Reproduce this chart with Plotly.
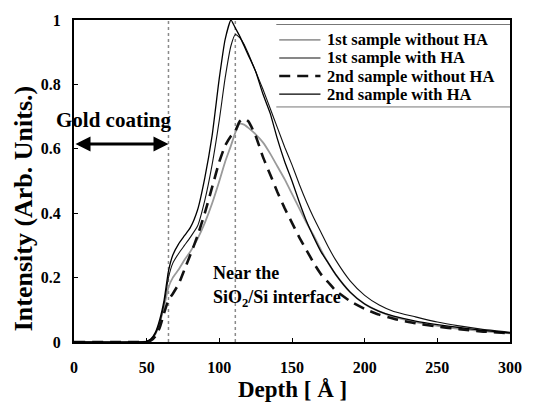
import plotly.graph_objects as go

# ---- data ----
depth = [0, 45, 50, 53, 56, 59, 62, 65, 68, 72, 76, 80, 85, 90, 95, 100, 104, 108, 111,
         114, 117, 120, 125, 130, 135, 140, 145, 150, 155, 160, 165, 170, 175, 180, 190,
         200, 210, 220, 235, 250, 265, 280, 300]

s1_without_ha = [0, 0, 0.002, 0.008, 0.025, 0.06, 0.11, 0.17, 0.2, 0.225, 0.255, 0.28, 0.32,
                 0.37, 0.43, 0.5, 0.56, 0.61, 0.65, 0.678, 0.675, 0.665, 0.645, 0.62, 0.585,
                 0.545, 0.505, 0.46, 0.415, 0.37, 0.33, 0.285, 0.245, 0.21, 0.155, 0.118,
                 0.095, 0.078, 0.062, 0.05, 0.041, 0.034, 0.027]

s1_with_ha = [0, 0, 0.002, 0.008, 0.025, 0.06, 0.12, 0.2, 0.245, 0.275, 0.3, 0.325, 0.36,
              0.44, 0.55, 0.69, 0.82, 0.92, 0.955, 0.945, 0.925, 0.895, 0.84, 0.785, 0.725,
              0.665, 0.605, 0.55, 0.49, 0.435, 0.385, 0.34, 0.295, 0.255, 0.19, 0.145,
              0.115, 0.095, 0.078, 0.062, 0.05, 0.04, 0.03]

s2_without_ha = [0, 0, 0.001, 0.005, 0.018, 0.045, 0.09, 0.13, 0.15, 0.18, 0.225, 0.27, 0.33,
                 0.4, 0.48, 0.56, 0.61, 0.64, 0.655, 0.685, 0.694, 0.685, 0.64, 0.575, 0.52,
                 0.465, 0.415, 0.37, 0.325, 0.285, 0.245, 0.21, 0.185, 0.16, 0.127, 0.103,
                 0.085, 0.072, 0.058, 0.048, 0.04, 0.033, 0.027]

s2_with_ha = [0, 0, 0.002, 0.01, 0.03, 0.07, 0.13, 0.22, 0.27, 0.305, 0.33, 0.355, 0.41,
              0.51, 0.64, 0.82, 0.94, 1.0, 0.975, 0.95, 0.92, 0.89, 0.84, 0.77, 0.71,
              0.63, 0.56, 0.5, 0.435, 0.375, 0.325, 0.28, 0.245, 0.21, 0.155, 0.118,
              0.095, 0.08, 0.065, 0.054, 0.045, 0.037, 0.028]

series_names = ["1st sample without HA", "1st sample with HA",
                "2nd sample without HA", "2nd sample with HA"]

marker_depths = [65, 111]          # dotted vertical reference lines
gold_span = [0, 65]                # gold coating arrow extent
gold_level = 0.615

x_ticks = [0, 50, 100, 150, 200, 250, 300]
y_ticks = [0, 0.2, 0.4, 0.6, 0.8, 1]
y_ticklabels = ["0", "0.2", "0.4", "0.6", "0.8", "1"]

FONT = "Liberation Serif"

fig = go.Figure()

styles = [
    dict(color="#9a9a9a", width=1.8),
    dict(color="#111111", width=1.1),
    dict(color="#111111", width=2.6, dash="11px,7px"),
    dict(color="#000000", width=1.3),
]
for name, vals, st in zip(series_names,
                          [s1_without_ha, s1_with_ha, s2_without_ha, s2_with_ha],
                          styles):
    fig.add_trace(go.Scatter(x=depth, y=vals, mode="lines", name=name, showlegend=False,
                             line=dict(shape="spline", smoothing=0.5, **st)))

# compact legend (sample line + bold label), drawn in paper space
leg_rows = [0.938, 0.882, 0.826, 0.770]
for name, st, yr in zip(series_names, styles, leg_rows):
    fig.add_shape(type="line", xref="paper", yref="paper", x0=0.4707, x1=0.5653,
                  y0=yr, y1=yr, line=dict(color=st["color"], width=st["width"],
                                          dash=st.get("dash", "solid")))
    fig.add_annotation(x=0.5788, y=yr, xref="paper", yref="paper", text=f"<b>{name}</b>",
                       showarrow=False, xanchor="left", yanchor="middle", borderpad=0,
                       font=dict(family=FONT, size=16.5, color="black"))
fig.add_shape(type="line", xref="paper", yref="paper", x0=0.464, x1=1, y0=0.986, y1=0.986,
              line=dict(color="#777777", width=1))
fig.add_shape(type="line", xref="paper", yref="paper", x0=0.464, x1=1, y0=0.730, y1=0.730,
              line=dict(color="#777777", width=1))

for d in marker_depths:
    fig.add_shape(type="line", xref="x", yref="paper", x0=d, x1=d, y0=0, y1=1,
                  line=dict(color="#8a8a8a", width=1.5, dash="dot"), layer="below")

# gold coating double arrow
fig.add_annotation(x=gold_span[1], y=gold_level, ax=gold_span[0], ay=gold_level,
                   xref="x", yref="y", axref="x", ayref="y", text="",
                   showarrow=True, arrowhead=2, startarrowhead=2, arrowside="end+start",
                   arrowwidth=3, arrowsize=1, startarrowsize=1, arrowcolor="black")
fig.add_annotation(x=27.5, y=0.69, xref="x", yref="y", text="<b>Gold coating</b>",
                   showarrow=False, font=dict(family=FONT, size=21, color="black"))
fig.add_annotation(x=94.5, y=0.214, xref="x", yref="y", text="<b>Near the</b>",
                   showarrow=False, xanchor="left",
                   font=dict(family=FONT, size=18, color="black"))
fig.add_annotation(x=94.5, y=0.136, xref="x", yref="y",
                   text="<b>SiO<sub>2</sub>/Si interface</b>",
                   showarrow=False, xanchor="left",
                   font=dict(family=FONT, size=18, color="black"))

# axis titles
fig.add_annotation(x=-0.117, y=0.415, xref="paper", yref="paper", xanchor="center",
                   yanchor="middle", text="<b>Intensity (Arb. Units.)</b>", textangle=-90,
                   showarrow=False, font=dict(family=FONT, size=26, color="black"))
fig.add_annotation(x=0.502, y=-0.147, xref="paper", yref="paper", xanchor="center",
                   yanchor="middle", text="<b>Depth [ Å ]</b>", showarrow=False,
                   font=dict(family=FONT, size=23, color="black"))

fig.update_layout(
    width=534, height=407,
    margin=dict(l=74, r=16, t=17, b=65),
    paper_bgcolor="white", plot_bgcolor="white",
    showlegend=False,
    font=dict(family=FONT, color="black"),
)
fig.update_xaxes(range=[0, 300], tickvals=x_ticks, ticktext=[f"<b>{v}</b>" for v in x_ticks],
                 showgrid=False, zeroline=False, showline=True, linecolor="black",
                 linewidth=2, mirror=True, ticks="inside", ticklen=4, tickcolor="black",
                 tickfont=dict(family=FONT, size=16, color="black"), ticklabelstandoff=10)
fig.update_yaxes(range=[0, 1], tickvals=y_ticks, ticktext=[f"<b>{t}</b>" for t in y_ticklabels],
                 showgrid=False, zeroline=False, showline=True, linecolor="black",
                 linewidth=2, mirror=True, ticks="inside", ticklen=4, tickcolor="black",
                 tickfont=dict(family=FONT, size=16, color="black"), ticklabelstandoff=8)

fig.write_html("out.html")
